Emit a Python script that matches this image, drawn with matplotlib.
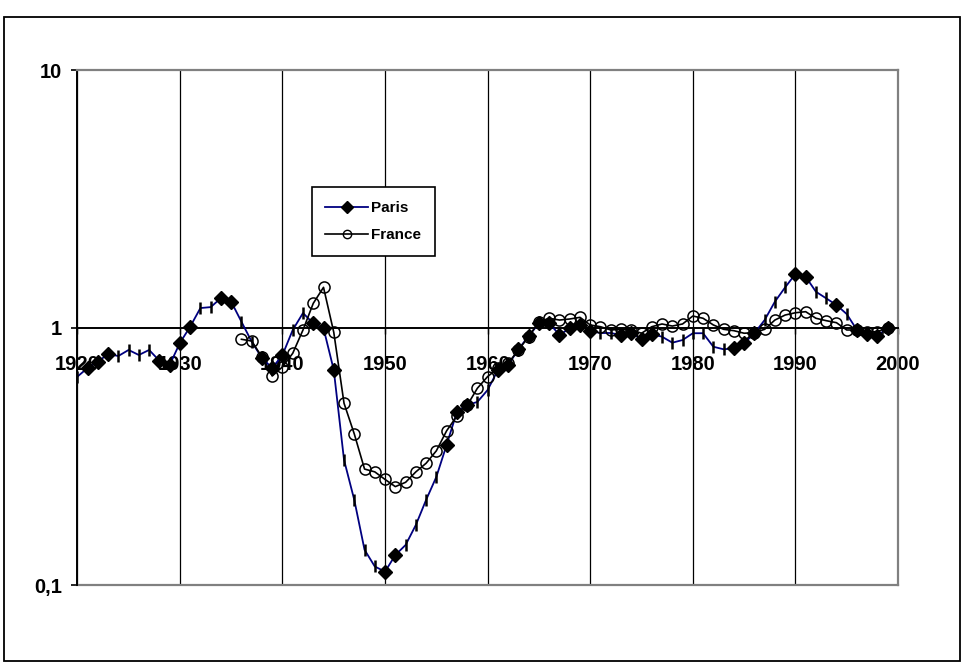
import numpy as np
import matplotlib
matplotlib.use("Agg")
import matplotlib.pyplot as plt
from matplotlib.lines import Line2D
from matplotlib.patches import Rectangle
from matplotlib.ticker import NullLocator

# ==================================================
# DATA (index = 1)
# ==================================================
paris_years = list(range(1920, 2000))
paris = [
    0.644, 0.696, 0.736, 0.789, 0.775, 0.818, 0.782, 0.818, 0.743, 0.715,
    0.871, 1.007, 1.19, 1.20, 1.30, 1.26, 1.053, 0.881, 0.761, 0.696,
    0.782, 0.978, 1.138, 1.038, 0.993, 0.684, 0.306, 0.214, 0.137, 0.118,
    0.1127, 0.1307, 0.143, 0.171, 0.214, 0.263, 0.350, 0.470, 0.500, 0.514,
    0.572, 0.684, 0.715, 0.823, 0.927, 1.038, 1.041, 0.935, 0.993, 1.023,
    0.969, 0.952, 0.952, 0.935, 0.952, 0.902, 0.943, 0.921, 0.873, 0.894,
    0.950, 0.950, 0.842, 0.823, 0.830, 0.868, 0.950, 1.069, 1.26, 1.432,
    1.614, 1.575, 1.377, 1.298, 1.223, 1.128, 0.978, 0.943, 0.927, 1.0,
]
# years where the Paris marker shows as a vertical dash instead of a diamond
paris_dash_years = [
    1920, 1924, 1925, 1926, 1927, 1932, 1933, 1936, 1937, 1941, 1942,
    1946, 1947, 1948, 1949, 1952, 1953, 1954, 1955, 1959, 1960,
    1971, 1972, 1977, 1978, 1979, 1980, 1981, 1982, 1983,
    1987, 1988, 1989, 1992, 1993, 1995,
]

france_years = list(range(1936, 2000))
france = [
    0.900, 0.886, 0.768, 0.648, 0.703, 0.794, 0.978, 1.241, 1.432, 0.958,
    0.508, 0.386, 0.282, 0.275, 0.257, 0.241, 0.2505, 0.275, 0.297, 0.332,
    0.397, 0.453, 0.498, 0.581, 0.645, 0.694, 0.726, 0.818, 0.921, 1.053,
    1.086, 1.069, 1.079, 1.095, 1.023, 1.007, 0.978, 0.984, 0.978, 0.950,
    1.007, 1.032, 1.013, 1.032, 1.108, 1.086, 1.023, 0.984, 0.972, 0.950,
    0.955, 0.984, 1.069, 1.118, 1.141, 1.152, 1.086, 1.063, 1.044, 0.978,
    0.978, 0.963, 0.963, 1.0,
]

x_ticks = list(range(1920, 2001, 10))
y_ticks = [0.1, 1, 10]
y_labels = ["0,1", "1", "10"]

# ==================================================
# PLOT
# ==================================================
plt.rcParams["font.family"] = ["Liberation Sans", "DejaVu Sans"]
plt.rcParams["font.weight"] = "bold"

W, H = 964, 670
fig = plt.figure(figsize=(W / 100, H / 100), dpi=100)
ax = fig.add_axes([77.3 / W, 1 - 585 / H, (898 - 77.3) / W, (585 - 70) / H])

# outer chart frame
fig.patches.append(Rectangle((4 / W, 1 - 661 / H), (960 - 4) / W, (661 - 17) / H,
                             transform=fig.transFigure, fill=False,
                             edgecolor="black", lw=1.3))

dash = set(paris_dash_years)
p_dx = [y for y in paris_years if y not in dash]
p_dv = [v for y, v in zip(paris_years, paris) if y not in dash]
p_tx = [y for y in paris_years if y in dash]
p_tv = [v for y, v in zip(paris_years, paris) if y in dash]

ax.plot(paris_years, paris, color="#000080", lw=1.3, zorder=3)
ax.plot(p_dx, p_dv, ls="none", marker="D", ms=7, color="black", zorder=4)
ax.plot(p_tx, p_tv, ls="none", marker="|", ms=9, mew=1.8, color="black", zorder=4)

ax.plot(france_years, france, color="black", lw=1.2, marker="o", ms=8,
        mfc="none", mec="black", mew=1.1, zorder=5)

ax.set_yscale("log")
ax.set_ylim(0.1, 10)
ax.set_xlim(1920, 2000)
ax.set_yticks(y_ticks)
ax.set_yticklabels(y_labels)
ax.yaxis.set_minor_locator(NullLocator())
ax.set_xticks(x_ticks)
ax.set_xticklabels([str(x) for x in x_ticks])

ax.spines["bottom"].set_position(("data", 1))
ax.spines["bottom"].set_color("black")
ax.spines["bottom"].set_linewidth(1.4)
ax.spines["left"].set_color("black")
ax.spines["left"].set_linewidth(1.4)
ax.spines["top"].set_color("#808080")
ax.spines["top"].set_linewidth(1.6)
ax.spines["right"].set_color("#808080")
ax.spines["right"].set_linewidth(1.6)
ax.axhline(0.1, color="#808080", lw=1.6, clip_on=False, zorder=2.5)

ax.xaxis.grid(True, color="black", lw=0.9)
ax.set_axisbelow(True)
ax.tick_params(axis="x", direction="out", length=4.5, width=1, pad=15,
               labelsize=14.5)
ax.tick_params(axis="y", direction="out", length=4, width=1.2, pad=7,
               labelsize=14.5)
for lbl in ax.get_xticklabels() + ax.get_yticklabels():
    lbl.set_fontweight("bold")

handles = [
    Line2D([], [], color="#000080", lw=1.3, marker="D", ms=6,
           mfc="black", mec="black"),
    Line2D([], [], color="black", lw=1.2, marker="o", ms=6,
           mfc="none", mec="black"),
]
leg = ax.legend(handles, ["Paris", "France"], loc="upper left",
                bbox_to_anchor=(311.7 / W, 1 - 187.3 / H),
                bbox_transform=fig.transFigure, borderaxespad=0,
                frameon=True, fancybox=False, framealpha=1,
                edgecolor="black", borderpad=0.9, handlelength=2.8,
                handletextpad=0.2, labelspacing=0.85,
                prop={"size": 11, "weight": "bold"})
leg.get_frame().set_linewidth(1.2)

fig.savefig("out.png", dpi=100)
